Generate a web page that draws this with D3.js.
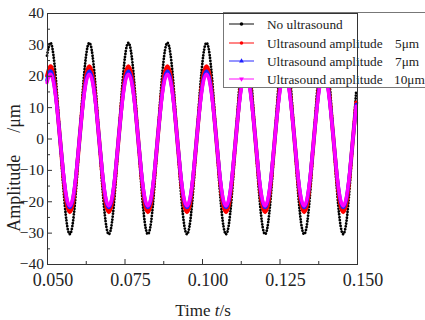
<!DOCTYPE html>
<html>
<head>
<meta charset="utf-8">
<script src="https://cdn.jsdelivr.net/npm/d3@7"></script>
<style>
  body { margin: 0; background: #fff; }
  svg { display: block; }
  text { font-family: "Liberation Serif", "Times New Roman", serif; fill: #222; }
</style>
</head>
<body>
<div id="chart"></div>
<script>
// time axis (s)
const times = [
  0.05000, 0.05105, 0.05210, 0.05315, 0.05420, 0.05525, 0.05630, 0.05735, 0.05840, 0.05945, 0.06050, 0.06155,
  0.06260, 0.06365, 0.06470, 0.06575, 0.06680, 0.06785, 0.06890, 0.06995, 0.07100, 0.07205, 0.07310, 0.07415,
  0.07520, 0.07625, 0.07730, 0.07835, 0.07940, 0.08045, 0.08150, 0.08255, 0.08360, 0.08465, 0.08570, 0.08675,
  0.08780, 0.08885, 0.08990, 0.09095, 0.09200, 0.09305, 0.09410, 0.09515, 0.09620, 0.09725, 0.09830, 0.09935,
  0.10040, 0.10145, 0.10250, 0.10355, 0.10460, 0.10565, 0.10670, 0.10775, 0.10880, 0.10985, 0.11090, 0.11195,
  0.11300, 0.11405, 0.11510, 0.11615, 0.11720, 0.11825, 0.11930, 0.12035, 0.12140, 0.12245, 0.12350, 0.12455,
  0.12560, 0.12665, 0.12770, 0.12875, 0.12980, 0.13085, 0.13190, 0.13295, 0.13400, 0.13505, 0.13610, 0.13715,
  0.13820, 0.13925, 0.14030, 0.14135, 0.14240, 0.14345, 0.14450, 0.14555, 0.14660, 0.14765, 0.14870, 0.14975
];

// amplitude (μm)
const noUltrasound = [
  26.4, 30.5, 26.4, 15.3, 0, -15.3, -26.4, -30.5, -26.4, -15.3, 0, 15.3,
  26.4, 30.5, 26.4, 15.3, 0, -15.3, -26.4, -30.5, -26.4, -15.3, 0, 15.3,
  26.4, 30.5, 26.4, 15.3, 0, -15.3, -26.4, -30.5, -26.4, -15.3, 0, 15.3,
  26.4, 30.5, 26.4, 15.3, 0, -15.3, -26.4, -30.5, -26.4, -15.3, 0, 15.3,
  26.4, 30.5, 26.4, 15.3, 0, -15.3, -26.4, -30.5, -26.4, -15.3, 0, 15.3,
  26.4, 30.5, 26.4, 15.3, 0, -15.3, -26.4, -30.5, -26.4, -15.3, 0, 15.3,
  26.4, 30.5, 26.4, 15.3, 0, -15.3, -26.4, -30.5, -26.4, -15.3, 0, 15.3,
  26.4, 30.5, 26.4, 15.3, 0, -15.3, -26.4, -30.5, -26.4, -15.3, 0, 15.3
];
const amp5 = [
  19.9, 23.0, 19.9, 11.5, 0, -11.8, -20.4, -23.5, -20.4, -11.8, 0, 11.5,
  19.9, 23.0, 19.9, 11.5, 0, -11.8, -20.4, -23.5, -20.4, -11.8, 0, 11.5,
  19.9, 23.0, 19.9, 11.5, 0, -11.8, -20.4, -23.5, -20.4, -11.8, 0, 11.5,
  19.9, 23.0, 19.9, 11.5, 0, -11.8, -20.4, -23.5, -20.4, -11.8, 0, 11.5,
  19.9, 23.0, 19.9, 11.5, 0, -11.8, -20.4, -23.5, -20.4, -11.8, 0, 11.5,
  19.9, 23.0, 19.9, 11.5, 0, -11.8, -20.4, -23.5, -20.4, -11.8, 0, 11.5,
  19.9, 23.0, 19.9, 11.5, 0, -11.8, -20.4, -23.5, -20.4, -11.8, 0, 11.5,
  19.9, 23.0, 19.9, 11.5, 0, -11.8, -20.4, -23.5, -20.4, -11.8, 0, 11.5
];
const amp7 = [
  18.6, 21.5, 18.6, 10.8, 0, -11.0, -19.1, -22.0, -19.1, -11.0, 0, 10.8,
  18.6, 21.5, 18.6, 10.8, 0, -11.0, -19.1, -22.0, -19.1, -11.0, 0, 10.8,
  18.6, 21.5, 18.6, 10.8, 0, -11.0, -19.1, -22.0, -19.1, -11.0, 0, 10.8,
  18.6, 21.5, 18.6, 10.8, 0, -11.0, -19.1, -22.0, -19.1, -11.0, 0, 10.8,
  18.6, 21.5, 18.6, 10.8, 0, -11.0, -19.1, -22.0, -19.1, -11.0, 0, 10.8,
  18.6, 21.5, 18.6, 10.8, 0, -11.0, -19.1, -22.0, -19.1, -11.0, 0, 10.8,
  18.6, 21.5, 18.6, 10.8, 0, -11.0, -19.1, -22.0, -19.1, -11.0, 0, 10.8,
  18.6, 21.5, 18.6, 10.8, 0, -11.0, -19.1, -22.0, -19.1, -11.0, 0, 10.8
];
const amp10 = [
  17.8, 20.5, 17.8, 10.3, 0, -10.8, -18.6, -21.5, -18.6, -10.8, 0, 10.3,
  17.8, 20.5, 17.8, 10.3, 0, -10.8, -18.6, -21.5, -18.6, -10.8, 0, 10.3,
  17.8, 20.5, 17.8, 10.3, 0, -10.8, -18.6, -21.5, -18.6, -10.8, 0, 10.3,
  17.8, 20.5, 17.8, 10.3, 0, -10.8, -18.6, -21.5, -18.6, -10.8, 0, 10.3,
  17.8, 20.5, 17.8, 10.3, 0, -10.8, -18.6, -21.5, -18.6, -10.8, 0, 10.3,
  17.8, 20.5, 17.8, 10.3, 0, -10.8, -18.6, -21.5, -18.6, -10.8, 0, 10.3,
  17.8, 20.5, 17.8, 10.3, 0, -10.8, -18.6, -21.5, -18.6, -10.8, 0, 10.3,
  17.8, 20.5, 17.8, 10.3, 0, -10.8, -18.6, -21.5, -18.6, -10.8, 0, 10.3
];

const seriesLabels = ['No ultrasound', 'Ultrasound amplitude', 'Ultrasound amplitude', 'Ultrasound amplitude'];
const seriesUnits = ['', '5μm', '7μm', '10μm'];

const xTicks = [0.050, 0.075, 0.100, 0.125, 0.150];
const xMinorTicks = [0.0625, 0.0875, 0.1125, 0.1375];
const yTicks = [-40, -30, -20, -10, 0, 10, 20, 30, 40];
const yMinorTicks = [-35, -25, -15, -5, 5, 15, 25, 35];

const serif = '"Liberation Serif", "Times New Roman", serif';

// svg領域
const svgWidth = 425;
const svgHeight = 320;
const svg = d3.select('#chart')
  .append('svg')
  .attr('width', svgWidth)
  .attr('height', svgHeight);

const plot = { left: 47, right: 357, top: 13, bottom: 264 };

const xScale = d3.scaleLinear().domain([0.05, 0.15]).range([plot.left, plot.right]);
const yScale = d3.scaleLinear().domain([-40, 40]).range([plot.bottom, plot.top]);

// series
const styles = [
  { values: noUltrasound, color: '#000', width: 2.8, dash: '0.01 2.9', marker: 'circle' },
  { values: amp5, color: '#ff0000', width: 4, dash: null, marker: 'circle' },
  { values: amp7, color: '#2020ff', width: 3.6, dash: null, marker: 'triangle' },
  { values: amp10, color: '#ff00ff', width: 3.4, dash: null, marker: 'triangleDown' }
];

const line = d3.line()
  .x((d, i) => xScale(times[i]))
  .y(d => yScale(d))
  .curve(d3.curveNatural);

svg.append('g')
  .selectAll('path')
  .data(styles)
  .enter()
  .append('path')
  .attr('d', s => line(s.values))
  .attr('fill', 'none')
  .attr('stroke', s => s.color)
  .attr('stroke-width', s => s.width)
  .attr('stroke-linecap', 'round')
  .attr('stroke-linejoin', 'round')
  .attr('stroke-dasharray', s => s.dash);

// axes
const axisColor = '#333';
function styleAxis(g) {
  g.attr('font-family', serif);
  g.select('.domain').remove();
  g.selectAll('.tick line').attr('stroke', axisColor);
  g.selectAll('.tick text').attr('font-family', serif).attr('fill', '#222');
}

const xAxis = svg.append('g')
  .attr('transform', `translate(0,${plot.bottom})`)
  .call(d3.axisBottom(xScale).tickValues(xTicks).tickSize(-5).tickPadding(9).tickFormat(d3.format('.3f')))
  .call(styleAxis);
xAxis.selectAll('text').attr('font-size', 18).attr('dx', 5.5);

svg.append('g')
  .attr('transform', `translate(0,${plot.bottom})`)
  .call(d3.axisBottom(xScale).tickValues(xMinorTicks).tickSize(-3).tickFormat(''))
  .call(styleAxis);

const yAxis = svg.append('g')
  .attr('transform', `translate(${plot.left},0)`)
  .call(d3.axisLeft(yScale).tickValues(yTicks).tickSize(-5).tickPadding(3).tickFormat(d3.format('d')))
  .call(styleAxis);
yAxis.selectAll('text').attr('font-size', 15.5);

svg.append('g')
  .attr('transform', `translate(${plot.left},0)`)
  .call(d3.axisLeft(yScale).tickValues(yMinorTicks).tickSize(-3).tickFormat(''))
  .call(styleAxis);

// legend
const legend = svg.append('g');
legend.append('rect')
  .attr('x', 223.5)
  .attr('y', 12.5)
  .attr('width', 230)
  .attr('height', 75)
  .attr('fill', '#fff')
  .attr('stroke', '#777')
  .attr('stroke-width', 1);

const rowY = [24, 43, 61, 79];
styles.forEach((s, i) => {
  const y = rowY[i];
  legend.append('line')
    .attr('x1', 229).attr('x2', 254)
    .attr('y1', y).attr('y2', y)
    .attr('stroke', s.color)
    .attr('stroke-width', 1.2)
    .attr('opacity', 0.8);
  const sym = s.marker === 'circle' ? d3.symbolCircle : d3.symbolTriangle;
  legend.append('path')
    .attr('d', d3.symbol(sym, 10)())
    .attr('transform', `translate(241.5,${y})` + (s.marker === 'triangleDown' ? ' rotate(180)' : ''))
    .attr('fill', s.color);
  legend.append('text')
    .attr('x', 267)
    .attr('y', y + 4.5)
    .attr('font-size', 13.3)
    .text(seriesLabels[i]);
  legend.append('text')
    .attr('x', i === 3 ? 394 : 395)
    .attr('y', y + 4.5)
    .attr('font-size', 13.3)
    .text(seriesUnits[i]);
});

// frame
svg.append('rect')
  .attr('x', plot.left + 0.5)
  .attr('y', plot.top + 0.5)
  .attr('width', plot.right - plot.left)
  .attr('height', plot.bottom - plot.top)
  .attr('fill', 'none')
  .attr('stroke', axisColor)
  .attr('stroke-width', 1);

// axis titles
const xTitle = svg.append('text')
  .attr('x', 203)
  .attr('y', 316)
  .attr('text-anchor', 'middle')
  .attr('font-size', 17);
xTitle.append('tspan').text('Time ');
xTitle.append('tspan').attr('font-style', 'italic').text('t');
xTitle.append('tspan').text('/s');

const yTitle = svg.append('text')
  .attr('transform', 'translate(20,168) rotate(-90)')
  .attr('text-anchor', 'middle')
  .attr('font-size', 18);
yTitle.append('tspan').text('Amplitude');
yTitle.append('tspan').attr('dx', 22).text('/μm');
</script>
</body>
</html>
